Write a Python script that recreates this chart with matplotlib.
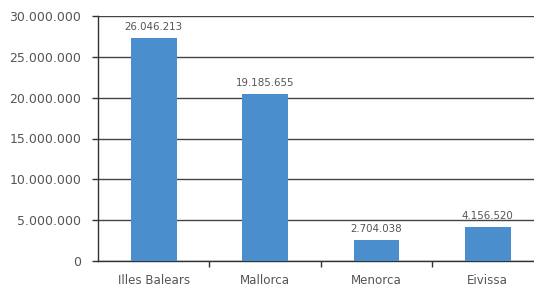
import matplotlib
matplotlib.use("Agg")
import matplotlib.pyplot as plt
from matplotlib.ticker import FuncFormatter

categories = ["Illes Balears", "Mallorca", "Menorca", "Eivissa"]
bar_heights = [27300000, 20450000, 2570000, 4160000]
label_values = [26046213, 19185655, 2704038, 4156520]
y_ticks = [0, 5000000, 10000000, 15000000, 20000000, 25000000, 30000000]

def fmt(v):
    return f"{int(v):,}".replace(",", ".")

plt.rcParams["font.family"] = ["DejaVu Sans"]
fig = plt.figure(figsize=(5.34, 2.87), dpi=100)
ax = fig.add_axes([98/534, 1 - 261/287, (543.5 - 98)/534, (261 - 16)/287])

x = range(len(categories))
bars = ax.bar(x, bar_heights, width=0.41, color="#4a8ecd", zorder=3)
for xi, h, lv in zip(x, bar_heights, label_values):
    ax.text(xi, h + 750000, fmt(lv), ha="center", va="bottom", fontsize=7.4, color="#555555")

ax.set_xlim(-0.5, len(categories) - 0.5)
ax.set_ylim(0, 30000000)
ax.set_yticks(y_ticks)
ax.yaxis.set_major_formatter(FuncFormatter(lambda v, p: fmt(v)))
ax.set_xticks([0.5, 1.5, 2.5])
ax.set_xticklabels([])
ax.set_xticks(list(x), minor=True)
ax.set_xticklabels(categories, minor=True)
ax.tick_params(axis="x", which="minor", length=0, pad=9, labelsize=8.6, labelcolor="#555555")
ax.tick_params(axis="x", which="major", length=4, width=1, color="#333333")
ax.tick_params(axis="y", length=4, width=1, color="#333333", pad=8, labelsize=9, labelcolor="#555555")
ax.grid(axis="y", color="#444444", linewidth=1, zorder=0)
for s in ["top", "right"]:
    ax.spines[s].set_visible(False)
ax.spines["left"].set_color("#333333")
ax.spines["bottom"].set_color("#333333")
ax.spines["left"].set_linewidth(1)
ax.spines["bottom"].set_linewidth(1)

fig.savefig("out.png", dpi=100)
